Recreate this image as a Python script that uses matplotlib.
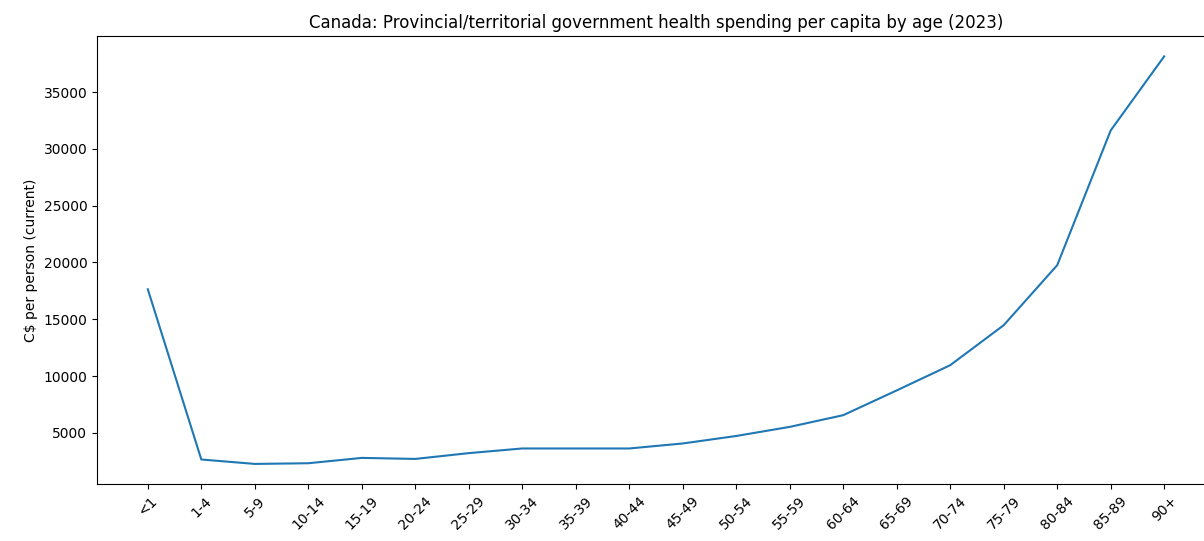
import matplotlib
matplotlib.use("Agg")
import matplotlib.pyplot as plt

# Age groups and per-capita provincial/territorial health spending (C$, 2023)
age_groups = ["<1", "1-4", "5-9", "10-14", "15-19", "20-24", "25-29", "30-34",
              "35-39", "40-44", "45-49", "50-54", "55-59", "60-64", "65-69",
              "70-74", "75-79", "80-84", "85-89", "90+"]
spending = [17640, 2660, 2270, 2330, 2800, 2710, 3220, 3630,
            3630, 3630, 4070, 4730, 5530, 6560, 8740,
            10960, 14480, 19760, 31620, 38140]

fig = plt.figure(figsize=(12.04, 5.41), dpi=100)
# axes extend a little past the right edge of the canvas
ax = fig.add_axes([97 / 1204, 1 - 484.3 / 541, 1118 / 1204, (484.3 - 36) / 541])

ax.plot(range(len(age_groups)), spending, color="#1f77b4", linewidth=1.5)
ax.set_xticks(range(len(age_groups)))
ax.set_xticklabels(age_groups, rotation=45)
ax.set_ylabel("C$ per person (current)")
ax.set_title("Canada: Provincial/territorial government health spending per capita by age (2023)")

fig.savefig("out.png", dpi=100)
